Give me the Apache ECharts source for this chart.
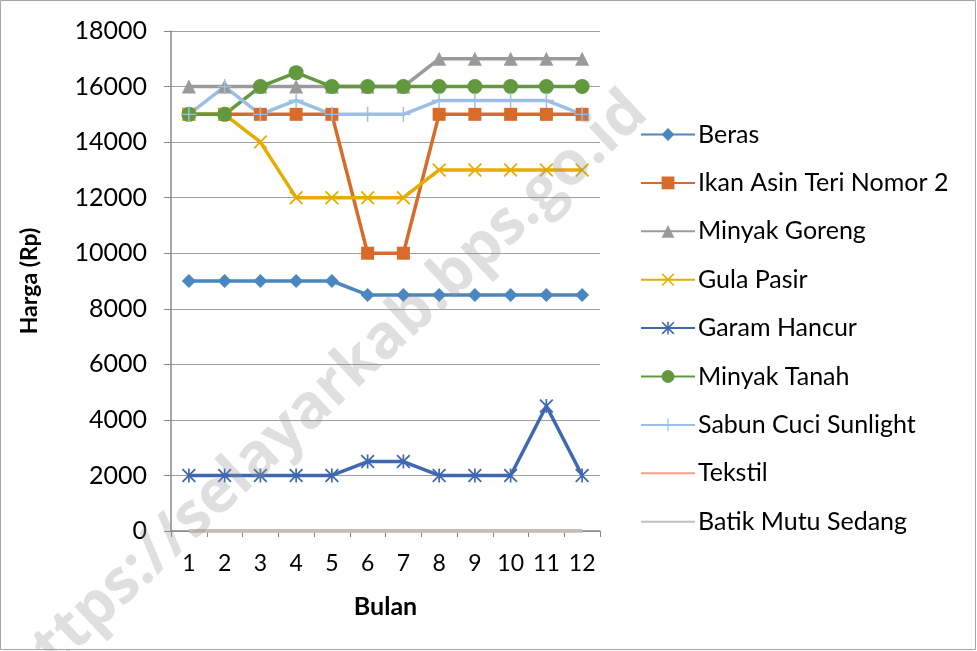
<!DOCTYPE html>
<html>
<head>
<meta charset="utf-8">
<script src="https://cdn.jsdelivr.net/npm/echarts@6/dist/echarts.min.js"></script>
<style>
html,body{margin:0;padding:0;background:#fff;}
#chart{width:977px;height:651px;}
</style>
</head>
<body>
<div id="chart"></div>
<script>
var months = ['1','2','3','4','5','6','7','8','9','10','11','12'];
var seriesNames = ['Beras','Ikan Asin Teri Nomor 2','Minyak Goreng','Gula Pasir','Garam Hancur','Minyak Tanah','Sabun Cuci Sunlight','Tekstil','Batik Mutu Sedang'];
var beras = [9000,9000,9000,9000,9000,8500,8500,8500,8500,8500,8500,8500];
var ikanAsin = [15000,15000,15000,15000,15000,10000,10000,15000,15000,15000,15000,15000];
var minyakGoreng = [16000,16000,16000,16000,16000,16000,16000,17000,17000,17000,17000,17000];
var gulaPasir = [15000,15000,14000,12000,12000,12000,12000,13000,13000,13000,13000,13000];
var garamHancur = [2000,2000,2000,2000,2000,2500,2500,2000,2000,2000,4500,2000];
var minyakTanah = [15000,15000,16000,16500,16000,16000,16000,16000,16000,16000,16000,16000];
var sabunCuci = [15000,16000,15000,15500,15000,15000,15000,15500,15500,15500,15500,15000];
var tekstil = [0,0,0,0,0,0,0,0,0,0,0,0];
var batik = [0,0,0,0,0,0,0,0,0,0,0,0];
var yTicks = {min:0, max:18000, interval:2000};

var FONT = 'Lato';
var xPath = 'path://M0,0.9 L0.9,0 L10,9.1 L9.1,10 Z M9.1,0 L10,0.9 L0.9,10 L0,9.1 Z';
var starPath = 'path://M0,0.9 L0.9,0 L10,9.1 L9.1,10 Z M9.1,0 L10,0.9 L0.9,10 L0,9.1 Z M4.4,0 L5.6,0 L5.6,10 L4.4,10 Z';
var plusPath = 'path://M4.5,0 L5.5,0 L5.5,4.6 L10,4.6 L10,5.4 L5.5,5.4 L5.5,10 L4.5,10 L4.5,5.4 L0,5.4 L0,4.6 L4.5,4.6 Z';

var defs = [
  {data: beras, color:'#4A86C0', symbol:'diamond', size:14},
  {data: ikanAsin, color:'#D86B2A', symbol:'rect', size:13},
  {data: minyakGoreng, color:'#9A9A9A', symbol:'triangle', size:14},
  {data: gulaPasir, color:'#E6AC00', symbol:xPath, size:14},
  {data: garamHancur, color:'#3F68B0', symbol:starPath, size:14},
  {data: minyakTanah, color:'#62993E', symbol:'circle', size:15},
  {data: sabunCuci, color:'#9DBFE5', symbol:plusPath, size:15},
  {data: tekstil, color:'#F2A285', symbol:'none', size:0},
  {data: batik, color:'#BFBFBF', symbol:'none', size:0}
];

var series = defs.map(function(d,i){
  var noSym = d.symbol === 'none';
  return {
    name: seriesNames[i],
    type: 'line',
    data: d.data,
    symbol: noSym ? 'circle' : d.symbol,
    symbolSize: d.size,
    showSymbol: !noSym,
    lineStyle: {color: d.color, width: 3.5},
    itemStyle: noSym ? {color: d.color, opacity: 0} : {color: d.color},
    emphasis: {disabled: true},
    animation: false
  };
});

var chart = echarts.init(document.getElementById('chart'));
chart.setOption({
  backgroundColor: '#fff',
  animation: false,
  textStyle: {fontFamily: FONT},
  grid: {left: 171, right: 377, top: 31, bottom: 120},
  legend: {
    orient: 'vertical',
    left: 640,
    top: 122,
    padding: 0,
    itemWidth: 54,
    itemHeight: 16,
    itemGap: 23.4,
    data: seriesNames,
    textStyle: {fontFamily: FONT, fontSize: 25, color: '#000', padding: [0,0,0,-2]}
  },
  xAxis: {
    type: 'category',
    data: months,
    boundaryGap: true,
    axisLine: {lineStyle: {color: '#888', width: 1.5}},
    axisTick: {show: true, length: 6, lineStyle: {color: '#888'}},
    axisLabel: {fontFamily: FONT, fontSize: 23, color: '#000', margin: 21},
    name: 'Bulan',
    nameLocation: 'middle',
    nameGap: 63,
    nameTextStyle: {fontFamily: FONT, fontSize: 25, fontWeight: 'bold', color: '#000'}
  },
  yAxis: {
    type: 'value',
    min: yTicks.min,
    max: yTicks.max,
    interval: yTicks.interval,
    axisLine: {show: true, lineStyle: {color: '#888', width: 1.5}},
    axisTick: {show: true, length: 7, lineStyle: {color: '#888'}},
    axisLabel: {fontFamily: FONT, fontSize: 25, color: '#000', margin: 24, formatter: function(v){ return String(v); }},
    splitLine: {show: true, lineStyle: {color: '#9E9E9E', width: 1.2}},
    name: 'Harga (Rp)',
    nameLocation: 'middle',
    nameRotate: 90,
    nameGap: 130,
    nameTextStyle: {fontFamily: FONT, fontSize: 23, fontWeight: 'bold', color: '#000'}
  },
  series: series,
  graphic: [
    {type:'rect', silent:true, z:-1, shape:{x:0.5,y:0.5,width:975,height:649}, style:{fill:'none', stroke:'#A6A6A6', lineWidth:1}},
    {type:'text', silent:true, z:100, x:326, y:394, rotation:0.75,
     style:{text:'https://selayarkab.bps.go.id', fontFamily:'Open Sans', fontWeight:'bold', fontSize:61, fill:'rgba(150,150,150,0.3)', align:'center', verticalAlign:'middle'}}
  ]
});
</script>
</body>
</html>
